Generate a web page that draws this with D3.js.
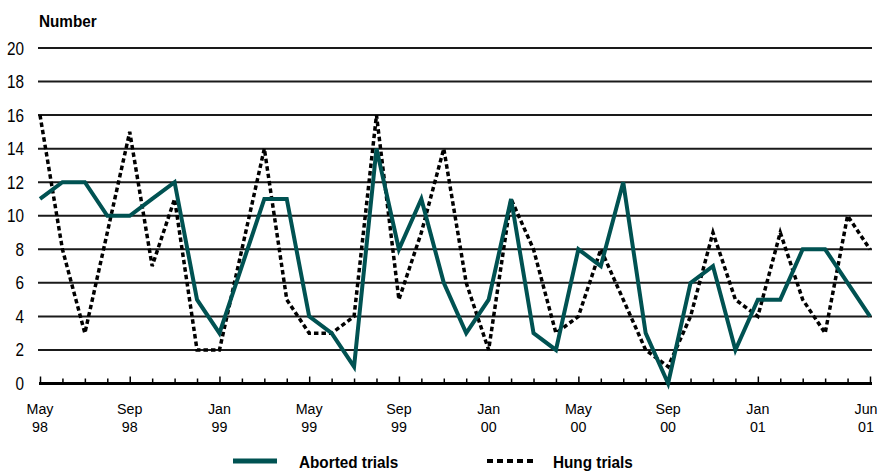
<!DOCTYPE html>
<html>
<head>
<meta charset="utf-8">
<script src="https://cdn.jsdelivr.net/npm/d3@7"></script>
<style>
  html, body { margin: 0; padding: 0; background: #fff; }
  svg { display: block; }
  text { font-family: "Liberation Sans", Arial, sans-serif; fill: #000; }
</style>
</head>
<body>
<svg id="chart" width="879" height="473"></svg>
<script>
const months = ["May 98","Jun 98","Jul 98","Aug 98","Sep 98","Oct 98","Nov 98","Dec 98",
  "Jan 99","Feb 99","Mar 99","Apr 99","May 99","Jun 99","Jul 99","Aug 99","Sep 99","Oct 99","Nov 99","Dec 99",
  "Jan 00","Feb 00","Mar 00","Apr 00","May 00","Jun 00","Jul 00","Aug 00","Sep 00","Oct 00","Nov 00","Dec 00",
  "Jan 01","Feb 01","Mar 01","Apr 01","May 01","Jun 01"];
const aborted = [11,12,12,10,10,11,12,5,3,7,11,11,4,3,1,14,8,11,6,3,5,11,3,2,8,7,12,3,0,6,7,2,5,5,8,8,6,4];
const hung    = [16,8,3,9,15,7,11,2,2,8,14,5,3,3,4,16,5,9,14,6,2,11,8,3,4,8,5,2,1,4,9,5,4,9,5,3,10,8];
const labelMonths = ["May 98","Sep 98","Jan 99","May 99","Sep 99","Jan 00","May 00","Sep 00","Jan 01","Jun 01"];
const yTicks = [0,2,4,6,8,10,12,14,16,18,20];
const seriesNames = ["Aborted trials","Hung trials"];

const svg = d3.select("#chart");
const x = d3.scalePoint().domain(months).range([40, 870]);
const y = d3.scaleLinear().domain([0, 20]).range([383.5, 48]);
const teal = "#005252";

function ntext(sel, tx, ty, sx) {
  return sel.attr("transform", `translate(${tx},${ty}) scale(${sx},1)`);
}

// gridlines
svg.append("g").selectAll("line").data(yTicks.filter(d => d > 0)).join("line")
  .attr("x1", 38).attr("x2", 872)
  .attr("y1", d => y(d)).attr("y2", d => y(d))
  .attr("stroke", "#1a1a1a").attr("stroke-width", 2);

// y labels
svg.append("g").selectAll("text").data(yTicks).join("text")
  .attr("text-anchor", "end").attr("font-size", 18)
  .attr("transform", d => `translate(24,${y(d) + 6.5}) scale(0.85,1)`)
  .text(d => d);

ntext(svg.append("text"), 39, 27, 0.9)
  .attr("font-size", 17).attr("font-weight", "bold").text("Number");

// x axis ticks
const xAxis = d3.axisBottom(x).tickSizeInner(-4).tickSizeOuter(0).tickFormat("");
const gx = svg.append("g").attr("transform", `translate(0,${y(0)})`).call(xAxis);
gx.select(".domain").remove();
gx.selectAll(".tick line").attr("stroke", "#000").attr("stroke-width", 1.5)
  .attr("y2", d => labelMonths.includes(d) ? -7 : -5);
svg.append("line").attr("x1", 39).attr("x2", 872).attr("y1", y(0)).attr("y2", y(0))
  .attr("stroke", "#000").attr("stroke-width", 3);

// x labels: month line and year line as separate texts
const lx = d => Math.min(x(d), 866);
svg.append("g").selectAll("text").data(labelMonths).join("text")
  .attr("text-anchor", "middle").attr("font-size", 15.5)
  .attr("transform", d => `translate(${lx(d)},414) scale(0.92,1)`)
  .text(d => d.split(" ")[0]);
svg.append("g").selectAll("text").data(labelMonths).join("text")
  .attr("text-anchor", "middle").attr("font-size", 15.5)
  .attr("transform", d => `translate(${lx(d)},432) scale(0.92,1)`)
  .text(d => d.split(" ")[1]);

// lines
const lineA = d3.line().x((d, i) => x(months[i])).y(d => y(d));
svg.append("path").datum(hung).attr("d", lineA)
  .attr("fill", "none").attr("stroke", "#000").attr("stroke-width", 3.5)
  .attr("stroke-dasharray", "4.5,3");
svg.append("path").datum(aborted).attr("d", lineA)
  .attr("fill", "none").attr("stroke", teal).attr("stroke-width", 4)
  .attr("stroke-linejoin", "miter");

// legend
const lg = svg.append("g");
lg.append("line").attr("x1", 233).attr("x2", 277).attr("y1", 461).attr("y2", 461)
  .attr("stroke", teal).attr("stroke-width", 5);
ntext(lg.append("text"), 299, 468, 0.9).attr("font-size", 17).attr("font-weight", "bold").text(seriesNames[0]);
lg.append("line").attr("x1", 487).attr("x2", 533).attr("y1", 461).attr("y2", 461)
  .attr("stroke", "#000").attr("stroke-width", 4).attr("stroke-dasharray", "6,4");
ntext(lg.append("text"), 553, 468, 0.9).attr("font-size", 17).attr("font-weight", "bold").text(seriesNames[1]);
</script>
</body>
</html>
